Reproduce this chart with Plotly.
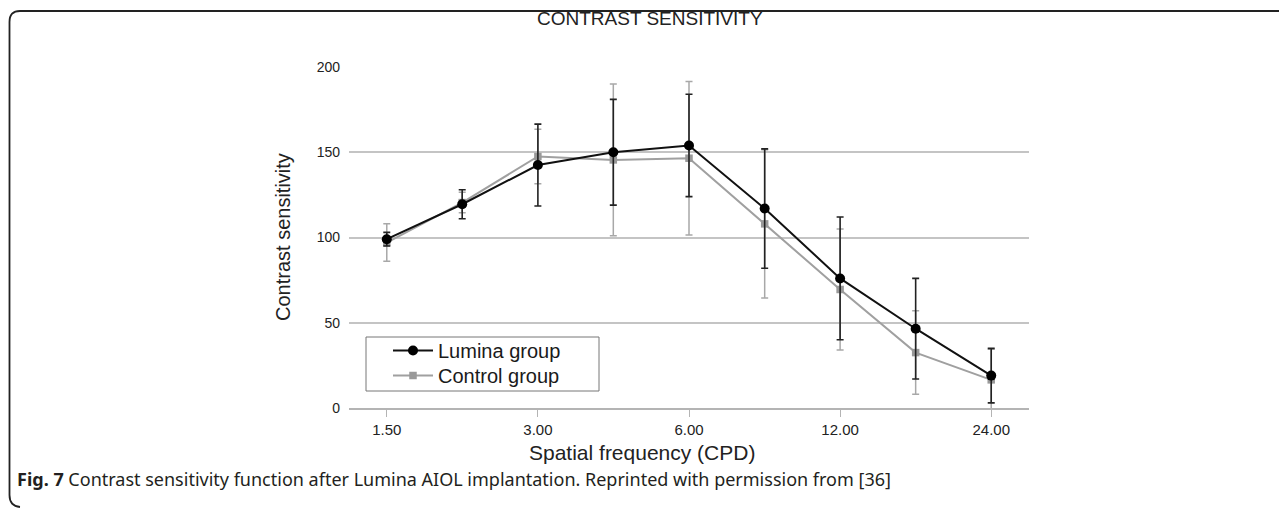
import math
import plotly.graph_objects as go

# ---- data ----
spatial_freq = [1.5, 2.12, 3.0, 4.24, 6.0, 8.49, 12.0, 16.97, 24.0]
tick_vals = [1.5, 3.0, 6.0, 12.0, 24.0]
tick_text = ["1.50", "3.00", "6.00", "12.00", "24.00"]

lumina = [99, 119.5, 142.5, 150, 154, 117, 76, 46.5, 19]
lumina_err = [4, 8.5, 24, 31, 30, 35, 36, 29.5, 16]
control = [97, 120.5, 147.5, 145.5, 146.5, 108, 69.5, 32.5, 16.5]
control_err = [11, 6, 16, 44.5, 45, 43.5, 35.5, 24.5, 18]

OFF = 8  # page body margin
W, H = 1287 - OFF, 508 - OFF
L, T = 349 - OFF, 67 - OFF
R = W - (1029 - OFF)
B = H - (408 - OFF)
PW, PH = W - L - R, H - T - B


def px(x):  # page x -> paper
    return (x - OFF - L) / PW


def py(y):  # page y -> paper
    return (H - B - (y - OFF)) / PH


ARIAL = "Liberation Sans, Arial, sans-serif"

fig = go.Figure()
fig.add_trace(go.Scatter(
    x=spatial_freq, y=control, name="Control group", mode="lines+markers",
    line=dict(color="#a0a0a0", width=2),
    marker=dict(symbol="square", size=7.5, color="#999999"),
    error_y=dict(type="data", array=control_err, visible=True,
                 color="#a8a8a8", thickness=1.5, width=3.5),
    legend="legend2", cliponaxis=False,
))
fig.add_trace(go.Scatter(
    x=spatial_freq, y=lumina, name="Lumina group", mode="lines+markers",
    line=dict(color="#111111", width=2),
    marker=dict(symbol="circle", size=10, color="#000000"),
    error_y=dict(type="data", array=lumina_err, visible=True,
                 color="#222222", thickness=1.6, width=3.5),
    legend="legend", cliponaxis=False,
))

q = math.log10(2) / 4
fig.update_xaxes(
    type="log",
    range=[math.log10(1.5) - q, math.log10(24) + q],
    tickmode="array", tickvals=tick_vals, ticktext=tick_text,
    showgrid=False, zeroline=False,
    showline=True, linecolor="#b4b4b4", linewidth=1.5,
    ticks="outside", ticklen=7, tickcolor="#b4b4b4", tickwidth=1,
    tickfont=dict(family=ARIAL, size=15, color="#222"),
)
fig.update_yaxes(
    range=[0, 200], tickvals=[0, 50, 100, 150, 200],
    showgrid=True, gridcolor="#c4c4c4", gridwidth=1.5,
    zeroline=False, showline=False, ticks="",
    ticklabelstandoff=8,
    tickfont=dict(family=ARIAL, size=14, color="#222"),
)

shapes = [
    dict(type="path", xref="paper", yref="paper",
         path=(f"M {px(1300)},{py(11)} L {px(20)},{py(11)} "
               f"Q {px(9.5)},{py(11)} {px(9.5)},{py(22)} "
               f"L {px(9.5)},{py(495)} Q {px(9.5)},{py(506)} {px(20)},{py(507)}"),
         line=dict(color="#222222", width=1.8)),
    dict(type="rect", xref="paper", yref="paper",
         x0=px(366), x1=px(599), y0=py(337), y1=py(391),
         line=dict(color="#777777", width=1), fillcolor="rgba(0,0,0,0)", layer="above"),
]

annotations = [
    dict(text="CONTRAST SENSITIVITY", xref="paper", yref="paper",
         x=px(650), y=py(19), xanchor="center", yanchor="middle", showarrow=False,
         font=dict(family=ARIAL, size=19, color="#222")),
    dict(text="Contrast sensitivity", xref="paper", yref="paper",
         x=px(283), y=py(237), xanchor="center", yanchor="middle", showarrow=False,
         textangle=-90,
         font=dict(family=ARIAL, size=20, color="#222")),
    dict(text="Spatial frequency (CPD)", xref="paper", yref="paper",
         x=px(642), y=py(453), xanchor="center", yanchor="middle", showarrow=False,
         font=dict(family=ARIAL, size=21, color="#222")),
    dict(text="<b>Fig. 7</b> Contrast sensitivity function after Lumina AIOL implantation. "
              "Reprinted with permission from [36]",
         xref="paper", yref="paper",
         x=px(15), y=py(479), xanchor="left", yanchor="middle", showarrow=False,
         font=dict(family="Noto Sans", size=18, color="#231f20")),
]

legend_common = dict(xanchor="left", yanchor="top", borderwidth=0,
                     bgcolor="rgba(255,255,255,0)",
                     font=dict(family=ARIAL, size=20, color="#1a1a1a"),
                     itemwidth=40)

fig.update_layout(
    width=W, height=H,
    margin=dict(l=L, r=R, t=T, b=B),
    paper_bgcolor="white", plot_bgcolor="white",
    showlegend=True,
    legend=dict(x=px(388), y=py(331), **legend_common),
    legend2=dict(x=px(388), y=py(356), **legend_common),
    shapes=shapes,
    annotations=annotations,
)

fig.write_html("out.html")
